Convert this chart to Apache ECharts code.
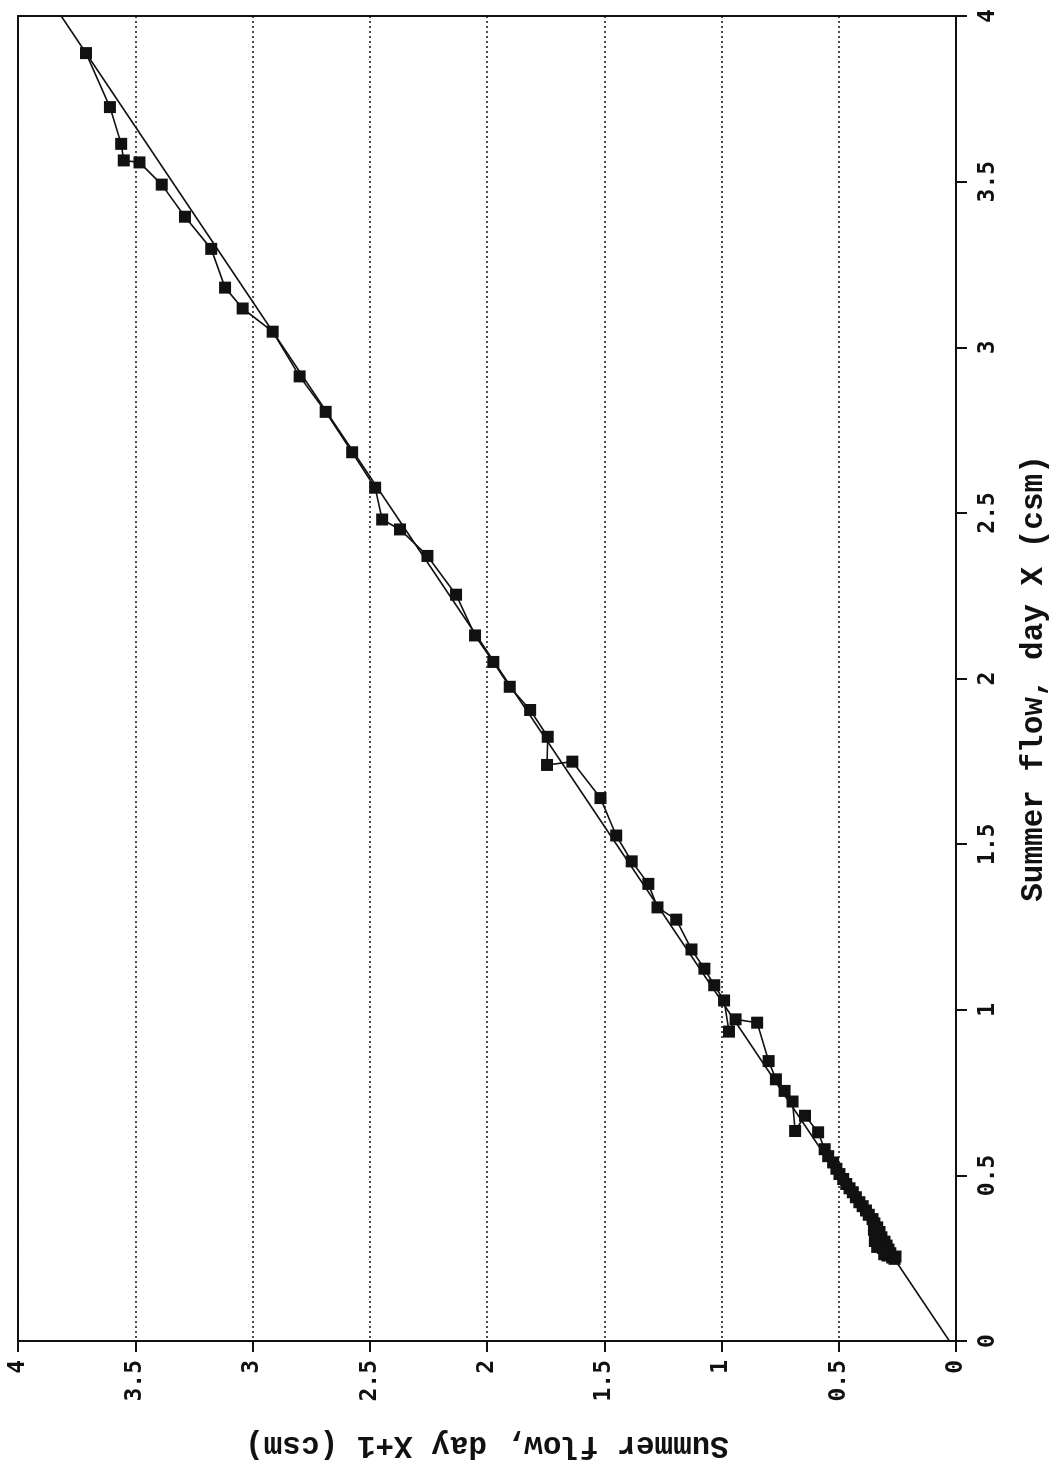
<!DOCTYPE html>
<html>
<head>
<meta charset="utf-8">
<script src="https://cdn.jsdelivr.net/npm/echarts@6/dist/echarts.min.js"></script>
<style>
  html, body { margin: 0; padding: 0; background: #fff; }
  #chart { width: 1058px; height: 1465px; }
</style>
</head>
<body>
<div id="chart"></div>
<script>
// summer flow on day X (drawn on the vertical axis, right side) and day X+1 (horizontal, bottom, reversed)
const dayX = [
  3.888, 3.725, 3.614, 3.564, 3.558, 3.491, 3.394, 3.297, 3.180, 3.117,
  3.047, 2.912, 2.805, 2.683, 2.576, 2.480, 2.450, 2.370, 2.253, 2.130,
  2.050, 1.975, 1.905, 1.824, 1.739, 1.749, 1.639, 1.526, 1.448, 1.380,
  1.309, 1.272, 1.182, 1.124, 1.074, 1.028, 0.934, 0.971, 0.961, 0.845,
  0.790, 0.755, 0.723, 0.634, 0.680, 0.630, 0.579, 0.558, 0.539, 0.520,
  0.504, 0.489, 0.474, 0.461, 0.449, 0.434, 0.419, 0.407, 0.394, 0.381,
  0.368, 0.355, 0.343, 0.336, 0.329, 0.320, 0.313, 0.306, 0.300, 0.293,
  0.288, 0.281, 0.276, 0.270, 0.265, 0.258, 0.252, 0.248, 0.262, 0.284,
  0.302, 0.255
]
const dayX1 = [
  3.710, 3.608, 3.560, 3.549, 3.482, 3.387, 3.288, 3.176, 3.117, 3.042,
  2.914, 2.799, 2.688, 2.575, 2.477, 2.447, 2.371, 2.254, 2.132, 2.051,
  1.973, 1.903, 1.816, 1.741, 1.744, 1.636, 1.516, 1.449, 1.383, 1.312,
  1.273, 1.193, 1.128, 1.073, 1.031, 0.989, 0.968, 0.940, 0.848, 0.799,
  0.768, 0.731, 0.697, 0.686, 0.644, 0.588, 0.560, 0.545, 0.524, 0.510,
  0.497, 0.481, 0.468, 0.454, 0.440, 0.427, 0.412, 0.398, 0.384, 0.372,
  0.356, 0.348, 0.336, 0.350, 0.326, 0.342, 0.318, 0.333, 0.305, 0.324,
  0.296, 0.312, 0.288, 0.300, 0.280, 0.292, 0.272, 0.262, 0.306, 0.336,
  0.346, 0.258
]

// fitted straight line, end points
const fitX = [0, 4]
const fitX1 = [0.028, 3.816]

const tickLabels = ['0', '0.5', '1', '1.5', '2', '2.5', '3', '3.5', '4']

const nameFont = '"Liberation Mono", "Courier New", monospace'
const tickFont = '"DejaVu Sans Mono", monospace'

const chart = echarts.init(document.getElementById('chart'))

const labelFmt = (v) => {
  const i = Math.round(v * 2)
  return tickLabels[i] !== undefined ? tickLabels[i] : ''
}

const option = {
  backgroundColor: '#ffffff',
  animation: false,
  grid: {
    left: 18,
    right: 90,
    top: 16,
    bottom: 121,
    show: true,
    borderColor: '#111',
    borderWidth: 2,
  },
  xAxis: {
    type: 'value',
    min: 0,
    max: 4,
    interval: 0.5,
    inverse: true,
    position: 'bottom',
    name: 'Summer flow, day X+1 (csm)',
    nameLocation: 'middle',
    nameRotate: 180,
    nameGap: 88,
    nameTextStyle: { color: '#111', fontFamily: nameFont, fontWeight: 'bold', fontSize: 31 },
    axisLine: { show: true, lineStyle: { color: '#111', width: 2 } },
    axisTick: { show: true, inside: false, length: 11, lineStyle: { color: '#111', width: 2 } },
    axisLabel: {
      rotate: 90,
      margin: 19,
      color: '#111',
      fontFamily: tickFont,
      fontWeight: 'bold',
      fontSize: 23,
      formatter: labelFmt,
    },
    splitLine: { show: true, lineStyle: { color: '#111', width: 1.5, type: [2, 3] } },
  },
  yAxis: {
    type: 'value',
    min: 0,
    max: 4,
    interval: 0.5,
    position: 'right',
    name: 'Summer flow, day X (csm)',
    nameLocation: 'middle',
    nameRotate: 90,
    nameGap: 63,
    nameTextStyle: { color: '#111', fontFamily: nameFont, fontWeight: 'bold', fontSize: 31 },
    axisLine: { show: true, lineStyle: { color: '#111', width: 2 } },
    axisTick: { show: true, inside: false, length: 11, lineStyle: { color: '#111', width: 2 } },
    axisLabel: {
      rotate: 90,
      margin: 21,
      color: '#111',
      fontFamily: tickFont,
      fontWeight: 'bold',
      fontSize: 23,
      formatter: labelFmt,
    },
    splitLine: { show: false },
  },
  series: [
    {
      name: 'fit',
      type: 'line',
      data: fitX.map((v, i) => [fitX1[i], v]),
      symbol: 'none',
      lineStyle: { color: '#111', width: 1.6 },
      z: 2,
    },
    {
      name: 'flow',
      type: 'line',
      data: dayX.map((v, i) => [dayX1[i], v]),
      symbol: 'rect',
      symbolSize: 12,
      itemStyle: { color: '#111' },
      lineStyle: { color: '#111', width: 1.6 },
      z: 3,
    },
  ],
}

chart.setOption(option)
</script>
</body>
</html>
